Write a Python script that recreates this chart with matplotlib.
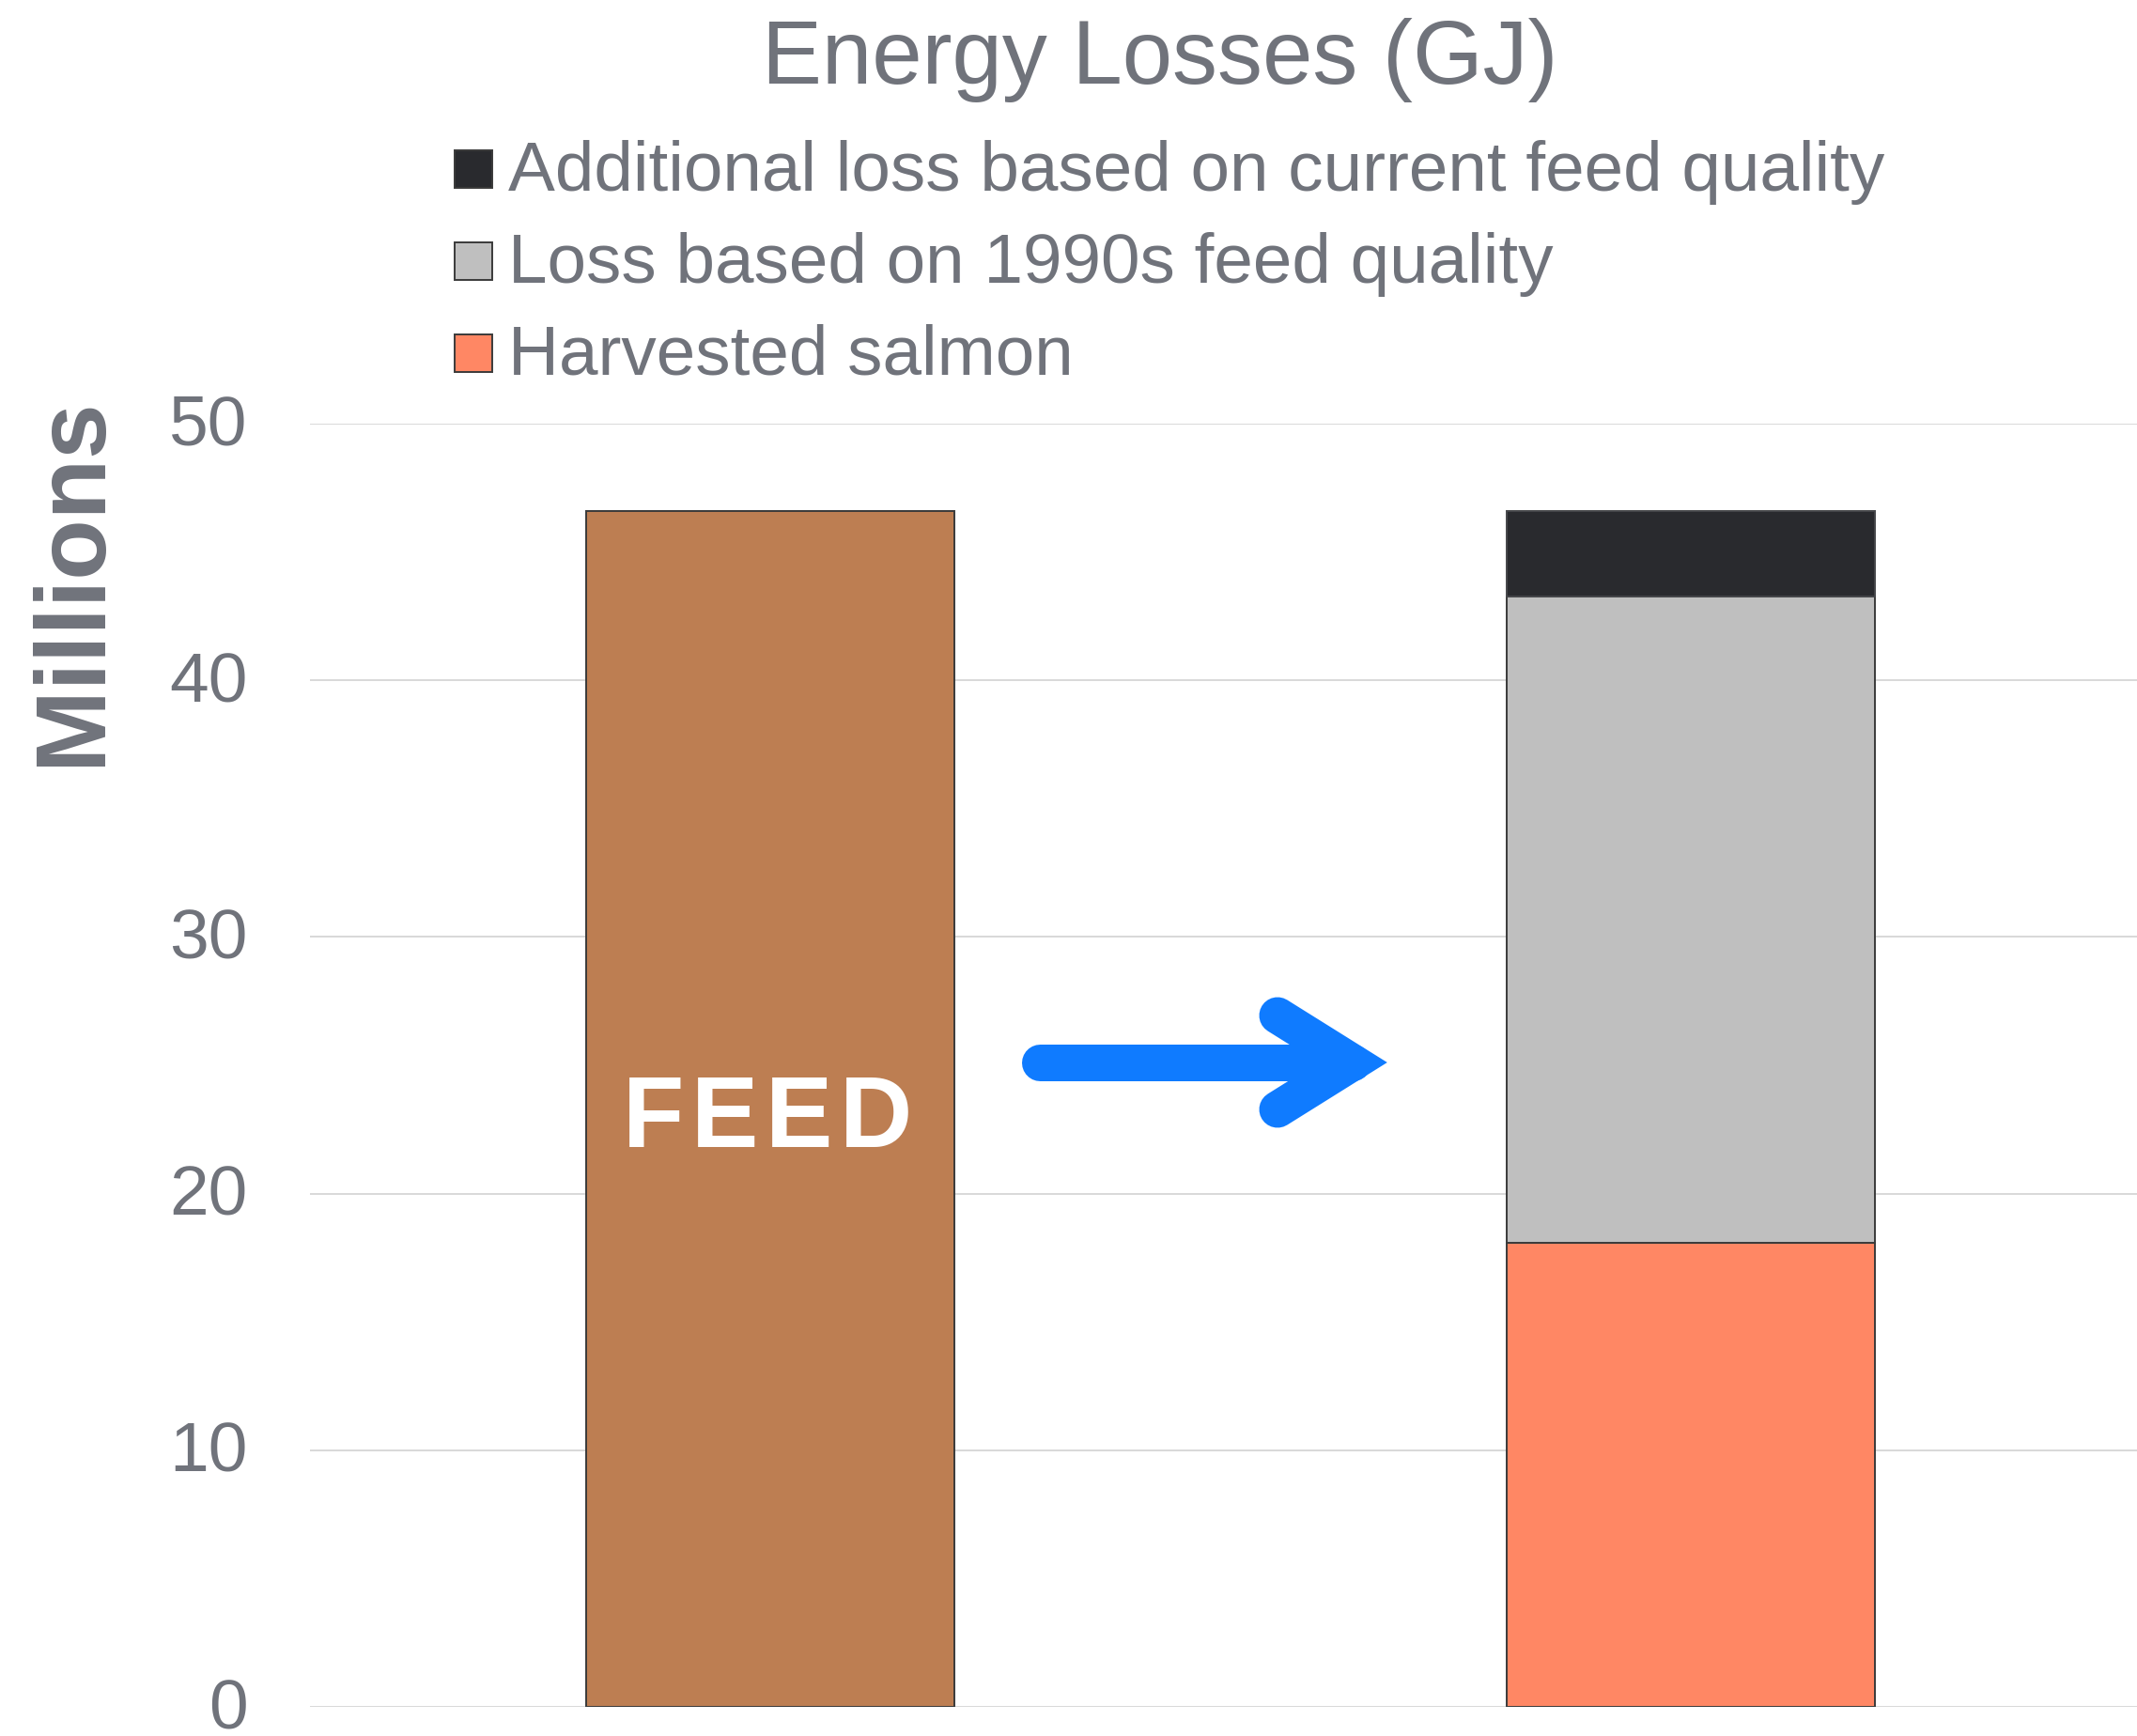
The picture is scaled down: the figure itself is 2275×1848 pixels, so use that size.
import numpy as np
import matplotlib
matplotlib.use('Agg')
import matplotlib.pyplot as plt
import matplotlib.transforms as mtransforms
from matplotlib.lines import Line2D
from matplotlib.patches import Rectangle

# values in millions of GJ
positions = [0, 1]
feed = [46.57]
harvested = [18.1]
loss_1990s = [25.15]
additional_loss = [3.32]

legend_labels = ['Additional loss based on current feed quality',
                 'Loss based on 1990s feed quality',
                 'Harvested salmon']
yticks = [0, 10, 20, 30, 40, 50]

col_feed = '#BD7E52'
col_harv = '#FF8764'
col_1990 = '#BFBFBF'
col_add = '#292A2E'
col_text = '#70737B'
col_edge = '#3A3A3A'

plt.rcParams['font.family'] = ['Liberation Sans', 'DejaVu Sans']

W, H = 2275, 1848
fig = plt.figure(figsize=(W / 100, H / 100), dpi=100)
fig.patch.set_facecolor('white')


def fx(px):
    return px / W


def fy(py):
    return 1 - py / H


ax = fig.add_axes([fx(330), fy(1817.2), 1960 / W, (1817.2 - 450.7) / H])
ax.set_xlim(-0.5, 1.5)
ax.set_ylim(0, 50)

bw = 0.4
ax.bar(positions[0], feed, width=bw, color=col_feed, edgecolor=col_edge, linewidth=1.4, zorder=3)
ax.bar(positions[1], harvested, width=bw, color=col_harv, edgecolor=col_edge, linewidth=1.4, zorder=3)
ax.bar(positions[1], loss_1990s, width=bw, bottom=harvested, color=col_1990,
       edgecolor=col_edge, linewidth=1.4, zorder=3)
ax.bar(positions[1], additional_loss, width=bw, bottom=np.add(harvested, loss_1990s),
       color=col_add, edgecolor='#45464A', linewidth=1.4, zorder=3)

ax.set_yticks(yticks)
ax.set_yticklabels([str(t) for t in yticks])
ax.set_xticks([])
ax.tick_params(axis='y', length=0, pad=48, labelsize=54, labelcolor=col_text)
# nudge tick labels up a few pixels, like the original
shift = mtransforms.ScaledTranslation(0, 4 / 100, fig.dpi_scale_trans)
for lab in ax.get_yticklabels():
    lab.set_transform(lab.get_transform() + shift)
ax.yaxis.grid(True, color='#D9D9D9', linewidth=1.44)
ax.set_axisbelow(True)
for s in ax.spines.values():
    s.set_visible(False)

# FEED label, letter spaced
letter_dx = [-0.127, -0.0497, 0.0314, 0.1151]
for ch, dx in zip('FEED', letter_dx):
    ax.text(positions[0] + dx, 21.81, ch, ha='center', va='baseline', fontsize=77,
            fontweight='bold', color='white', zorder=4)

# title and axis label
fig.text(fx(1235), fy(89), 'Energy Losses (GJ)', ha='center', va='baseline',
         fontsize=69, color=col_text)
fig.text(fx(106), fy(619), 'Millions', rotation=90, rotation_mode='anchor',
         ha='center', va='baseline', fontsize=76, fontweight='bold', color=col_text)

# legend drawn by hand
legend_cols = [col_add, col_1990, col_harv]
for i, (lab, c) in enumerate(zip(legend_labels, legend_cols)):
    base = 202.7 + 98 * i
    fig.patches.append(Rectangle((fx(484), fy(base - 3)), 40 / W, 40 / H,
                                 transform=fig.transFigure, facecolor=c,
                                 edgecolor=col_edge, linewidth=1.4))
    fig.text(fx(541), fy(base), lab, ha='left', va='baseline', fontsize=53.8, color=col_text)

# blue arrow between the bars
arrow_col = '#0F7BFF'
lw = 39 * 72 / 100
fig.lines.append(Line2D([fx(1106.5), fx(1440)], [fy(1131), fy(1131)], transform=fig.transFigure,
                        color=arrow_col, linewidth=lw, solid_capstyle='round'))
fig.lines.append(Line2D([fx(1360), fx(1440), fx(1360)], [fy(1081), fy(1131), fy(1181)],
                        transform=fig.transFigure, color=arrow_col, linewidth=lw,
                        solid_capstyle='round', solid_joinstyle='miter'))

fig.savefig('out.png', dpi=100, facecolor='white')
